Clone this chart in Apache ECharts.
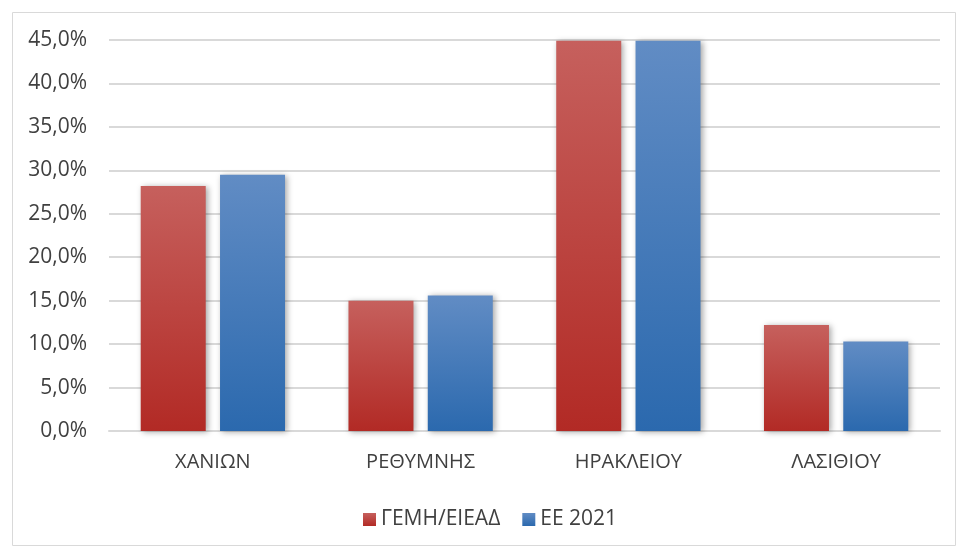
<!DOCTYPE html>
<html><head><meta charset="utf-8">
<script src="https://cdn.jsdelivr.net/npm/echarts@6/dist/echarts.min.js"></script>
<style>html,body{margin:0;padding:0;background:#fff}#c{width:957px;height:547px}</style>
</head><body><div id="c"></div>
<script>
const categories = ['ΧΑΝΙΩΝ', 'ΡΕΘΥΜΝΗΣ', 'ΗΡΑΚΛΕΙΟΥ', 'ΛΑΣΙΘΙΟΥ'];
const seriesNames = ['ΓΕΜΗ/ΕΙΕΑΔ', 'ΕΕ 2021'];
const gemiValues = [28.2, 15.0, 44.9, 12.2];
const ee2021Values = [29.5, 15.6, 44.9, 10.3];

const font = 'Open Sans, Liberation Sans, sans-serif';
function grad(top, bottom) {
  return new echarts.graphic.LinearGradient(0, 0, 0, 1, [
    { offset: 0, color: top }, { offset: 1, color: bottom }
  ]);
}
const chart = echarts.init(document.getElementById('c'));
chart.setOption({
  animation: false,
  graphic: [{
    type: 'rect', left: 10, top: 10, shape: { width: 943, height: 533 },
    style: { fill: 'none', stroke: '#d9d9d9', lineWidth: 1 }
  }],
  grid: { left: 109, right: 17, top: 40, bottom: 116 },
  legend: {
    bottom: 12, left: 358, itemWidth: 13, itemHeight: 13, itemGap: 22,
    icon: 'rect',
    textStyle: { fontFamily: font, fontSize: 21, color: '#404040', padding: [0, 0, 0, 0] },
    data: seriesNames
  },
  xAxis: {
    type: 'category', data: categories,
    axisLine: { lineStyle: { color: '#d9d9d9', width: 2 } },
    axisTick: { show: false },
    axisLabel: { fontFamily: font, fontSize: 20, color: '#404040', margin: 21 }
  },
  yAxis: {
    type: 'value', min: 0, max: 45, interval: 5,
    axisLine: { show: false }, axisTick: { show: false },
    splitLine: { lineStyle: { color: '#d9d9d9', width: 2 } },
    axisLabel: {
      fontFamily: font, fontSize: 21, color: '#404040', margin: 22,
      formatter: v => v.toFixed(1).replace('.', ',') + '%'
    }
  },
  series: [
    {
      name: seriesNames[0], type: 'bar', data: gemiValues,
      barWidth: 65, barGap: '22%',
      itemStyle: { color: grad('#c6605d', '#b22a25'), shadowColor: 'rgba(0,0,0,0.35)', shadowBlur: 6, shadowOffsetX: 2, shadowOffsetY: 1 }
    },
    {
      name: seriesNames[1], type: 'bar', data: ee2021Values,
      barWidth: 65,
      itemStyle: { color: grad('#618cc4', '#2b69ae'), shadowColor: 'rgba(0,0,0,0.35)', shadowBlur: 6, shadowOffsetX: 2, shadowOffsetY: 1 }
    }
  ]
});
</script></body></html>
